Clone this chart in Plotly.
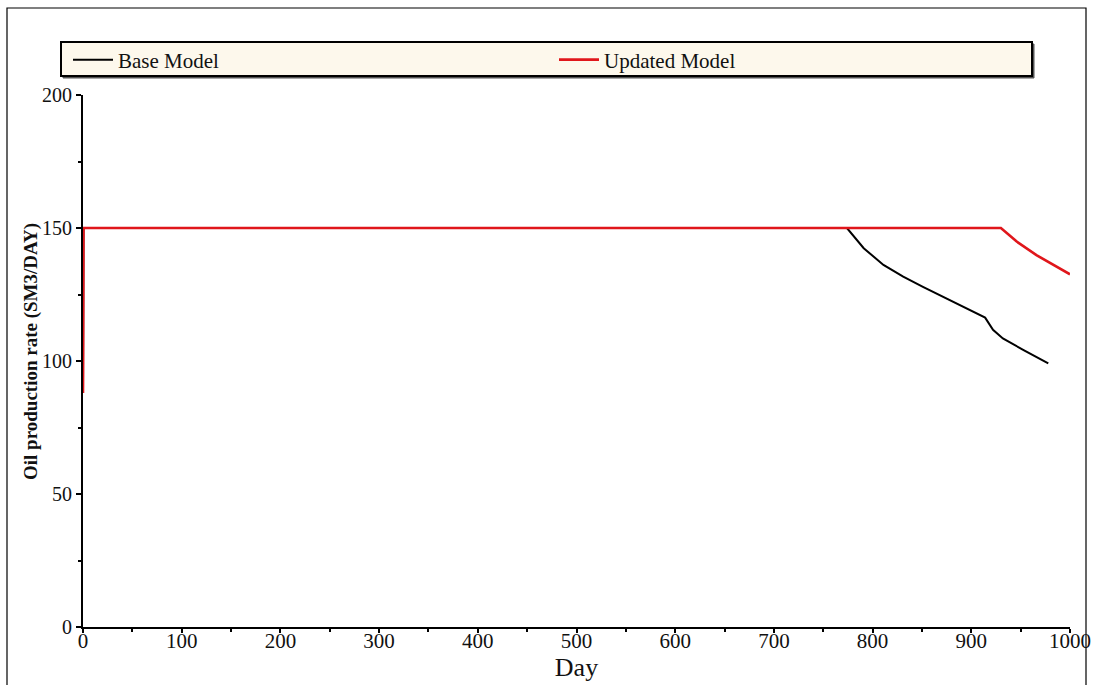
import plotly.graph_objects as go

# Oil production rate, base vs updated reservoir model
base_day = [0, 0.5, 774, 791, 811, 831, 851, 875, 899, 914, 922, 932, 953, 978]
base_rate = [88, 150, 150, 142.4, 136.1, 131.7, 127.9, 123.5, 119.2, 116.3, 111.7, 108.5, 104.1, 99.1]

updated_day = [0, 0.5, 930, 946, 966, 1000]
updated_rate = [88, 150, 150, 144.9, 139.8, 132.6]

x_ticks = [0, 100, 200, 300, 400, 500, 600, 700, 800, 900, 1000]
y_ticks = [0, 50, 100, 150, 200]

SERIF = "Liberation Serif"

fig = go.Figure()
fig.add_trace(go.Scatter(x=base_day, y=base_rate, mode="lines", name="Base Model",
                         line=dict(color="#000000", width=2)))
fig.add_trace(go.Scatter(x=updated_day, y=updated_rate, mode="lines", name="Updated Model",
                         line=dict(color="#e0161b", width=2.6)))

L, R, T, B = 83, 27, 95, 58
W, H = 1097, 685
pw, ph = W - L - R, H - T - B

def px_x(p):
    return (p - L) / pw

def px_y(p):
    return (H - B - p) / ph

# outer frame and legend panel
fig.add_shape(type="rect", xref="paper", yref="paper",
              x0=px_x(7), x1=px_x(1086), y0=px_y(720), y1=px_y(8),
              line=dict(color="#000000", width=1.2), fillcolor="rgba(0,0,0,0)", layer="below")
fig.add_shape(type="rect", xref="paper", yref="paper",
              x0=px_x(63), x1=px_x(1034), y0=px_y(78), y1=px_y(44),
              line=dict(color="#555555", width=1), fillcolor="#555555", layer="below")
fig.add_shape(type="rect", xref="paper", yref="paper",
              x0=px_x(61), x1=px_x(1032), y0=px_y(76), y1=px_y(42),
              line=dict(color="#000000", width=2), fillcolor="#fdf8ec", layer="below")

# y-axis title
fig.add_annotation(xref="paper", yref="paper", x=px_x(31), y=px_y(352),
                   text="<b>Oil production rate (SM3/DAY)</b>", textangle=-90,
                   showarrow=False, xanchor="center", yanchor="middle",
                   font=dict(family=SERIF, size=19, color="#111111"))

fig.update_layout(
    width=W, height=H,
    margin=dict(l=L, r=R, t=T, b=B, autoexpand=False),
    paper_bgcolor="#ffffff", plot_bgcolor="#ffffff",
    font=dict(family=SERIF, size=21, color="#111111"),
    showlegend=True,
    legend=dict(orientation="h", x=px_x(68), y=px_y(60), xanchor="left", yanchor="middle",
                bgcolor="rgba(0,0,0,0)", borderwidth=0,
                entrywidth=431, entrywidthmode="pixels",
                font=dict(family=SERIF, size=21, color="#111111"),
                itemwidth=40, traceorder="normal"),
    xaxis=dict(range=[0, 1000], tickvals=x_ticks, ticktext=[str(v) for v in x_ticks],
               automargin=False,
               showgrid=False, zeroline=False, showline=True, linecolor="#000000", linewidth=2,
               ticks="outside", ticklen=4, tickwidth=1.5, tickcolor="#000000",
               ticklabelstandoff=-10,
               minor=dict(dtick=50, ticks="outside", ticklen=3, tickwidth=1.5, tickcolor="#000000"),
               tickfont=dict(family=SERIF, size=21),
               title=dict(text="Day", font=dict(family=SERIF, size=26), standoff=0)),
    yaxis=dict(range=[0, 200], tickvals=y_ticks, ticktext=[str(v) for v in y_ticks],
               automargin=False,
               showgrid=False, zeroline=False, showline=True, linecolor="#000000", linewidth=2,
               ticks="outside", ticklen=5, tickwidth=1.5, tickcolor="#000000",
               ticklabelstandoff=0,
               minor=dict(dtick=25, ticks="outside", ticklen=3, tickwidth=1.5, tickcolor="#000000"),
               tickfont=dict(family=SERIF, size=20)),
)

fig.write_html("out.html")
